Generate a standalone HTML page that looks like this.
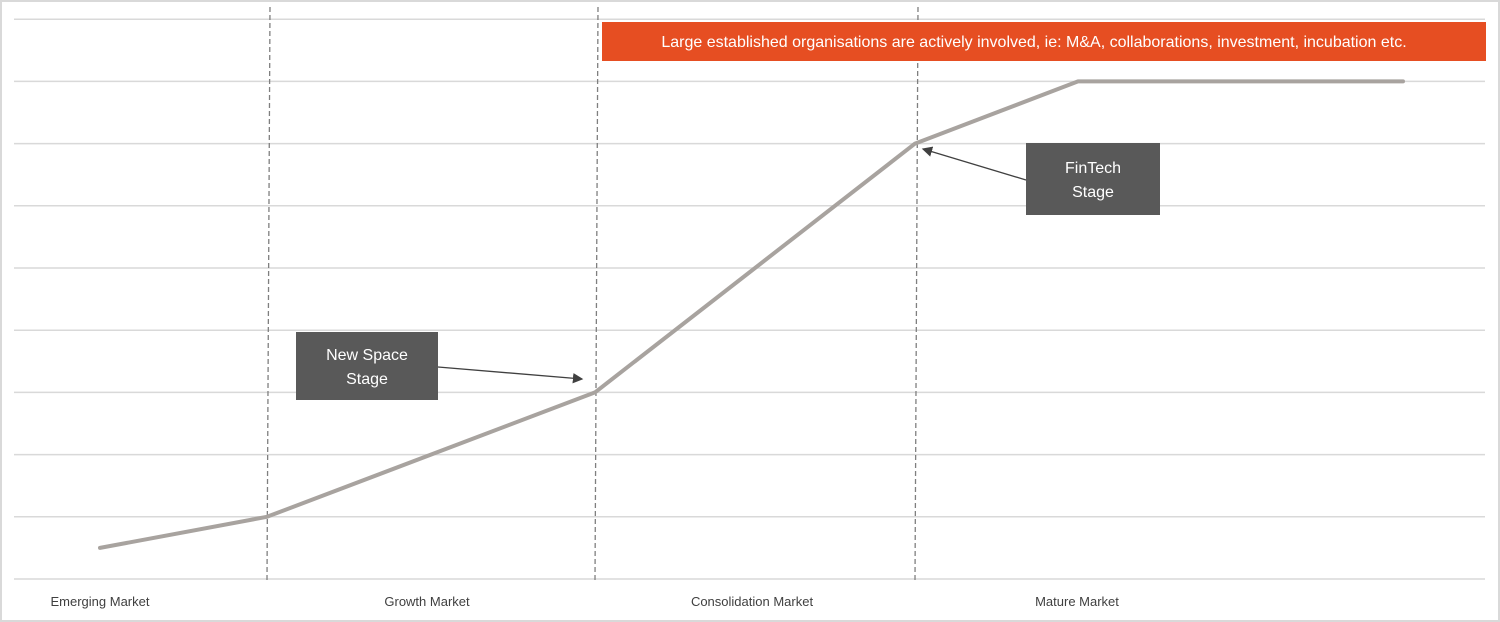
<!DOCTYPE html>
<html><head><meta charset="utf-8"><style>
body{margin:0;background:#fff;}
svg{display:block;font-family:"Liberation Sans",sans-serif;}
</style></head><body>
<svg width="1500" height="622">
<defs><marker id="ah" markerWidth="8" markerHeight="8" refX="7" refY="4" orient="auto"><path d="M0,0 L8,4 L0,8 z" fill="#404040"/></marker></defs>
<rect x="1" y="1" width="1498" height="620" fill="#fff" stroke="#d9d9d9" stroke-width="2"/>
<g id="grid"></g><g id="vlines"></g><g id="series"></g><g id="xlabels"></g>
<rect x="602" y="22" width="884" height="39" fill="#e64e22"/>
<text x="1034" y="47" fill="#fff" font-size="16" text-anchor="middle">Large established organisations are actively involved, ie: M&amp;A, collaborations, investment, incubation etc.</text>
<line x1="438" y1="367" x2="582" y2="379" stroke="#404040" stroke-width="1.3" marker-end="url(#ah)"/>
<rect x="296" y="332" width="142" height="68" fill="#595959"/>
<text x="367" y="360" fill="#fff" font-size="16" text-anchor="middle"><tspan x="367">New Space</tspan><tspan x="367" dy="24">Stage</tspan></text>
<line x1="1026" y1="180" x2="923" y2="149" stroke="#404040" stroke-width="1.3" marker-end="url(#ah)"/>
<rect x="1026" y="143" width="134" height="72" fill="#595959"/>
<text x="1093" y="173" fill="#fff" font-size="16" text-anchor="middle"><tspan x="1093">FinTech</tspan><tspan x="1093" dy="24">Stage</tspan></text>
</svg>
<script>
const yTicks=[0,1,2,3,4,5,6,7,8,9];
const xPos=[0,1,2,3,4,5];
const values=[0.5,1,3,7,8,8];
const xPixels=[100,267,595,915,1078,1403];
const stageLabels=["Emerging Market","Growth Market","Consolidation Market","Mature Market"];
const boundaryIdx=[1,2,3];
const NS='http://www.w3.org/2000/svg';
const y=v=>579-v*62.2;
function mk(t,a,p){const e=document.createElementNS(NS,t);for(const k in a)e.setAttribute(k,a[k]);p.appendChild(e);return e;}
const g=document.getElementById('grid');
yTicks.forEach(t=>{const l=mk('line',{x1:14,x2:1485,y1:y(t),y2:y(t),stroke:'#d9d9d9','stroke-width':1.5},g);

});
const vg=document.getElementById('vlines');
boundaryIdx.forEach(i=>{const x=xPixels[i];const l=mk('line',{x1:x+3,y1:7,x2:x,y2:580,stroke:'#7f7f7f','stroke-width':1.3,'stroke-dasharray':'5,3'},vg);

});
const pts=values.map((v,i)=>xPixels[i]+','+y(v)).join(' ');
const pl=mk('polyline',{points:pts,fill:'none',stroke:'#a8a39f','stroke-width':4,'stroke-linejoin':'round','stroke-linecap':'round'},document.getElementById('series'));


const lx=[100,427,752,1077];
const xl=document.getElementById('xlabels');
stageLabels.forEach((s,i)=>{const t=mk('text',{x:lx[i],y:606,'font-size':13,fill:'#404040','text-anchor':'middle'},xl);t.textContent=s;

});
</script>
</body></html>
